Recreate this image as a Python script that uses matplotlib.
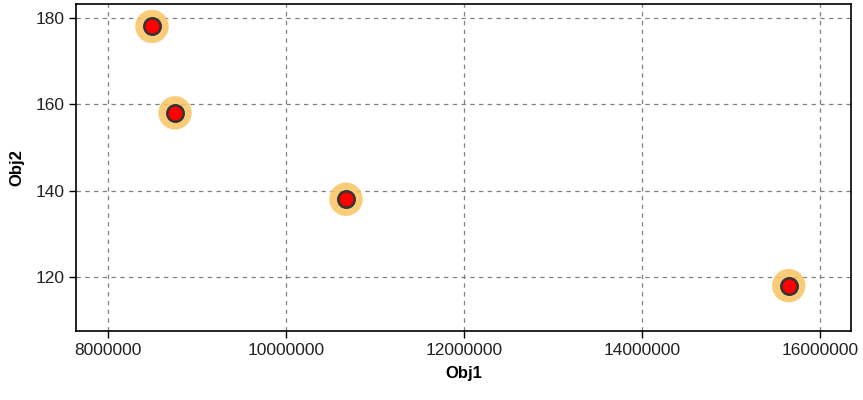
import matplotlib
matplotlib.use("Agg")
import matplotlib.pyplot as plt

plt.rcParams["font.family"] = ["Liberation Sans", "DejaVu Sans"]

# data
obj1 = [8494000, 8753000, 10674000, 15650000]
obj2 = [178, 158, 138, 118]
x_ticks = [8000000, 10000000, 12000000, 14000000, 16000000]
y_ticks = [120, 140, 160, 180]

fig = plt.figure(figsize=(8.63, 4.0), dpi=100)
ax = fig.add_axes([76 / 863, 1 - 331 / 400, 775 / 863, 327 / 400])

# halo + red dot
ax.scatter(obj1, obj2, s=580, color="#f8c463", alpha=0.85, edgecolors="none", zorder=3)
ax.scatter(obj1, obj2, s=140, color="red", edgecolors="#333333", linewidths=1.8, zorder=4)

ax.set_xlim(7640000, 16350000)
ax.set_ylim(107.5, 183.2)
ax.set_xticks(x_ticks)
ax.set_xticklabels([str(v) for v in x_ticks])
ax.set_yticks(y_ticks)
ax.tick_params(direction="out", length=5, width=1, labelsize=12.5, colors="black",
               labelcolor="#222222")
ax.grid(True, linestyle=(0, (3.5, 3.5)), color="#808080", linewidth=0.9)
ax.set_axisbelow(True)
for sp in ax.spines.values():
    sp.set_linewidth(1.2)

ax.set_xlabel("Obj1", fontsize=12, fontweight="bold", labelpad=6)
ax.set_ylabel("Obj2", fontsize=12, fontweight="bold", labelpad=8)

fig.savefig("out.png", dpi=100)
